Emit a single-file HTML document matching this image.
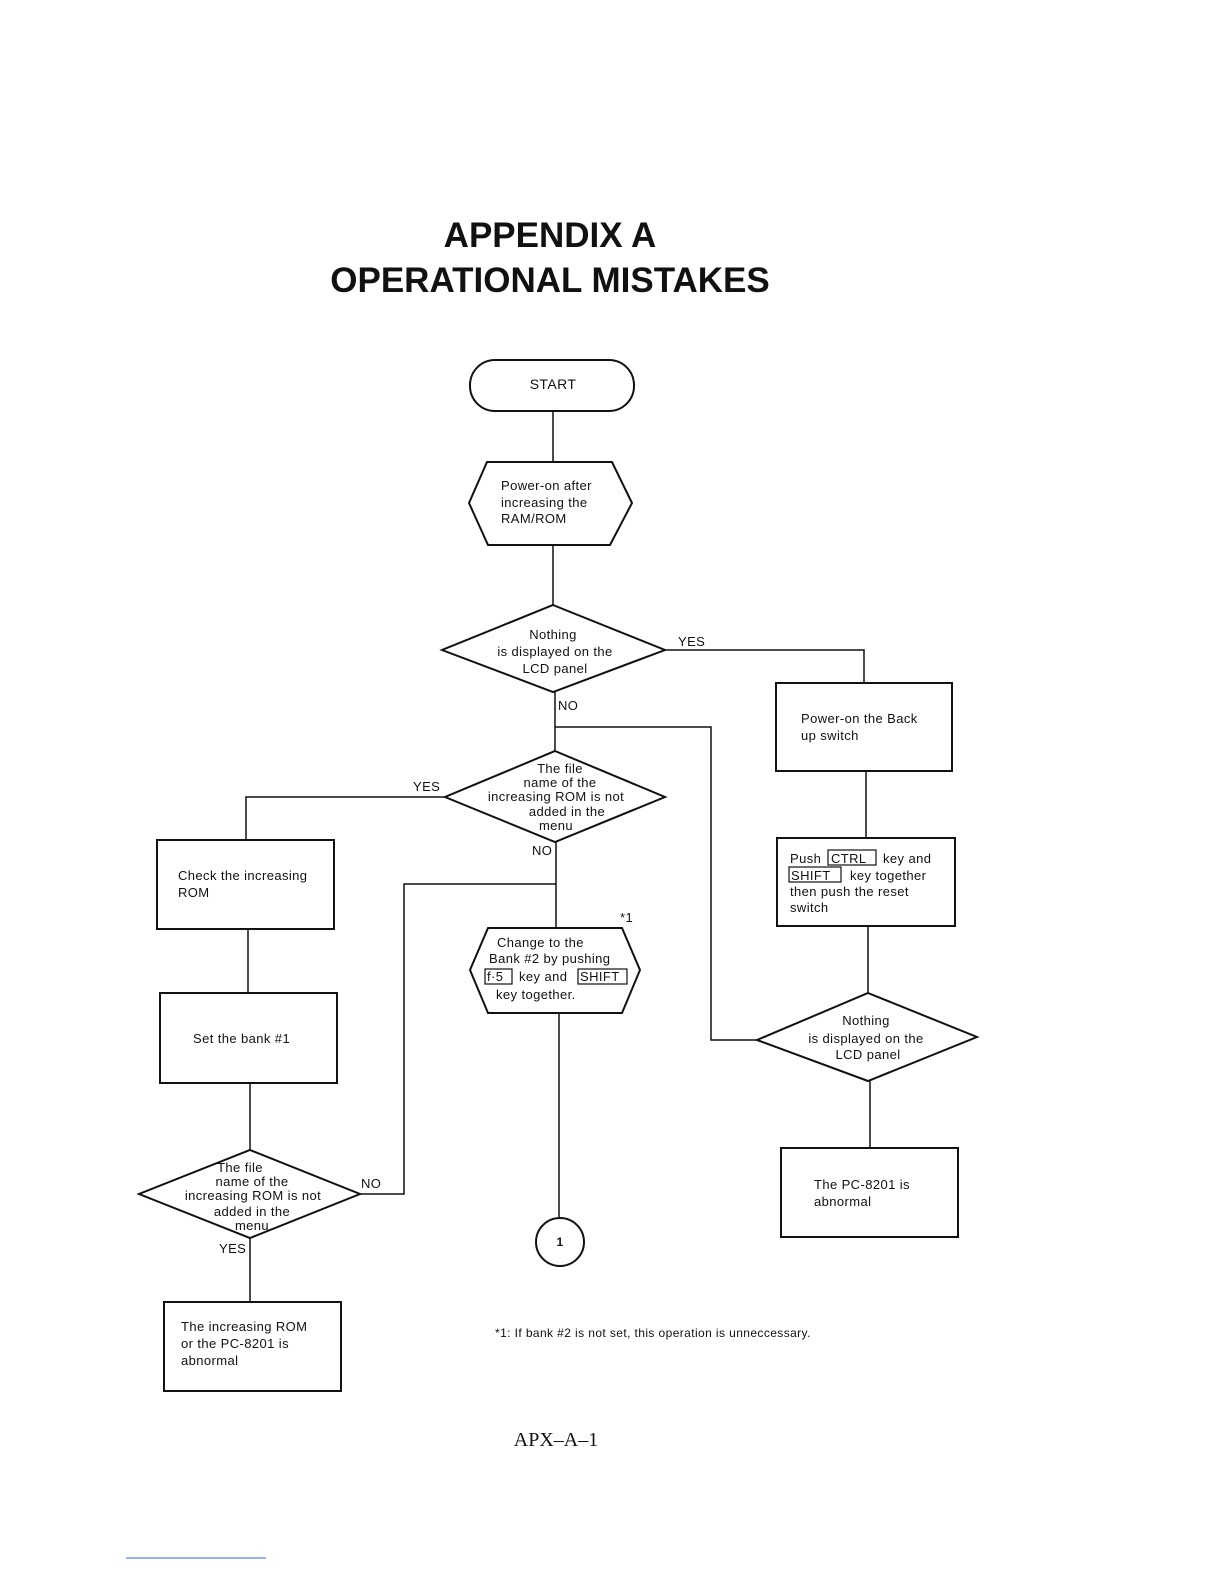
<!DOCTYPE html>
<html><head><meta charset="utf-8"><style>body{margin:0;background:#fff}svg{display:block}</style></head><body>
<svg width="1224" height="1584" viewBox="0 0 1224 1584" xmlns="http://www.w3.org/2000/svg">
<g font-family="Liberation Sans, sans-serif" font-weight="bold" fill="#111" text-anchor="middle">
<text x="550" y="247" font-size="35">APPENDIX A</text>
<text x="550" y="292" font-size="35">OPERATIONAL MISTAKES</text>
</g>
<g fill="none" stroke="#111" stroke-width="2">
<rect x="470" y="360" width="164" height="51" rx="25"/>
<polygon points="487,462 612,462 632,503 610,545 488,545 469,503"/>
<polygon points="553,605 665,650 553,692 442,650"/>
<rect x="776" y="683" width="176" height="88"/>
<rect x="777" y="838" width="178" height="88"/>
<polygon points="868,993 977,1037 868,1081 757,1040"/>
<polygon points="555,751 665,797 555,842 445,797"/>
<rect x="157" y="840" width="177" height="89"/>
<rect x="160" y="993" width="177" height="90"/>
<polygon points="250,1150 360,1194 250,1238 139,1194"/>
<polygon points="488,928 622,928 640,970 622,1013 488,1013 470,970"/>
<circle cx="560" cy="1242" r="24"/>
<rect x="164" y="1302" width="177" height="89"/>
<rect x="781" y="1148" width="177" height="89"/>
</g>
<g fill="none" stroke="#111" stroke-width="1.5">
<line x1="553" y1="411" x2="553" y2="462"/>
<line x1="553" y1="545" x2="553" y2="605"/>
<polyline points="665,650 864,650 864,683"/>
<line x1="866" y1="771" x2="866" y2="838"/>
<line x1="868" y1="926" x2="868" y2="993"/>
<polyline points="757,1040 711,1040 711,727 555,727"/>
<line x1="555" y1="692" x2="555" y2="751"/>
<polyline points="445,797 246,797 246,840"/>
<line x1="248" y1="929" x2="248" y2="993"/>
<line x1="250" y1="1083" x2="250" y2="1150"/>
<polyline points="360,1194 404,1194 404,884 556,884"/>
<line x1="556" y1="842" x2="556" y2="928"/>
<line x1="559" y1="1013" x2="559" y2="1218"/>
<line x1="250" y1="1238" x2="250" y2="1302"/>
<line x1="870" y1="1081" x2="870" y2="1148"/>
<line x1="126" y1="1558" x2="266" y2="1558" stroke="#36c" stroke-width="1"/>
</g>
<g font-family="Liberation Sans, sans-serif" font-size="13" fill="#111" letter-spacing="0.4">
<text x="553" y="389" text-anchor="middle" font-size="14">START</text>
<text x="501" y="490">Power-on after</text><text x="501" y="507">increasing the</text><text x="501" y="523">RAM/ROM</text>
<g text-anchor="middle"><text x="553" y="639">Nothing</text><text x="555" y="656">is displayed on the</text><text x="555" y="673">LCD panel</text>
<text x="560" y="773">The file</text><text x="560" y="787">name of the</text><text x="556" y="801">increasing ROM is not</text><text x="567" y="816">added in the</text><text x="556" y="830">menu</text>
<text x="866" y="1025">Nothing</text><text x="866" y="1043">is displayed on the</text><text x="868" y="1059">LCD panel</text>
<text x="240" y="1172">The file</text><text x="252" y="1186">name of the</text><text x="253" y="1200">increasing ROM is not</text><text x="252" y="1216">added in the</text><text x="252" y="1230">menu</text>
<text x="560" y="1246" font-weight="bold" font-size="12">1</text></g>
<text x="678" y="646">YES</text><text x="558" y="710">NO</text><text x="413" y="791">YES</text><text x="532" y="855">NO</text>
<text x="361" y="1188">NO</text><text x="219" y="1253">YES</text>
<text x="801" y="723">Power-on the Back</text><text x="801" y="740">up switch</text>
<text x="790" y="863">Push</text><text x="831" y="863">CTRL</text><text x="883" y="863">key and</text>
<text x="791" y="880">SHIFT</text><text x="850" y="880">key together</text>
<text x="790" y="896">then push the reset</text><text x="790" y="912">switch</text>
<text x="178" y="880">Check the increasing</text><text x="178" y="897">ROM</text>
<text x="193" y="1043">Set the bank #1</text>
<text x="497" y="947">Change to the</text><text x="489" y="963">Bank #2 by pushing</text>
<text x="487" y="981">f·5</text><text x="519" y="981">key and</text><text x="580" y="981">SHIFT</text>
<text x="496" y="999">key together.</text>
<text x="620" y="922">*1</text>
<text x="181" y="1331">The increasing ROM</text><text x="181" y="1348">or the PC-8201 is</text><text x="181" y="1365">abnormal</text>
<text x="814" y="1189">The PC-8201 is</text><text x="814" y="1206">abnormal</text>
<text x="495" y="1337" font-size="12">*1:   If bank #2 is not set, this operation is unneccessary.</text>
</g>
<g fill="none" stroke="#111" stroke-width="1.2">
<rect x="828" y="850" width="48" height="15"/><rect x="789" y="867" width="52" height="15"/>
<rect x="485" y="969" width="27" height="15"/><rect x="578" y="969" width="49" height="15"/>
</g>
<text x="556" y="1446" font-family="Liberation Serif, serif" font-size="20" text-anchor="middle" fill="#111">APX–A–1</text>
</svg>
</body></html>
